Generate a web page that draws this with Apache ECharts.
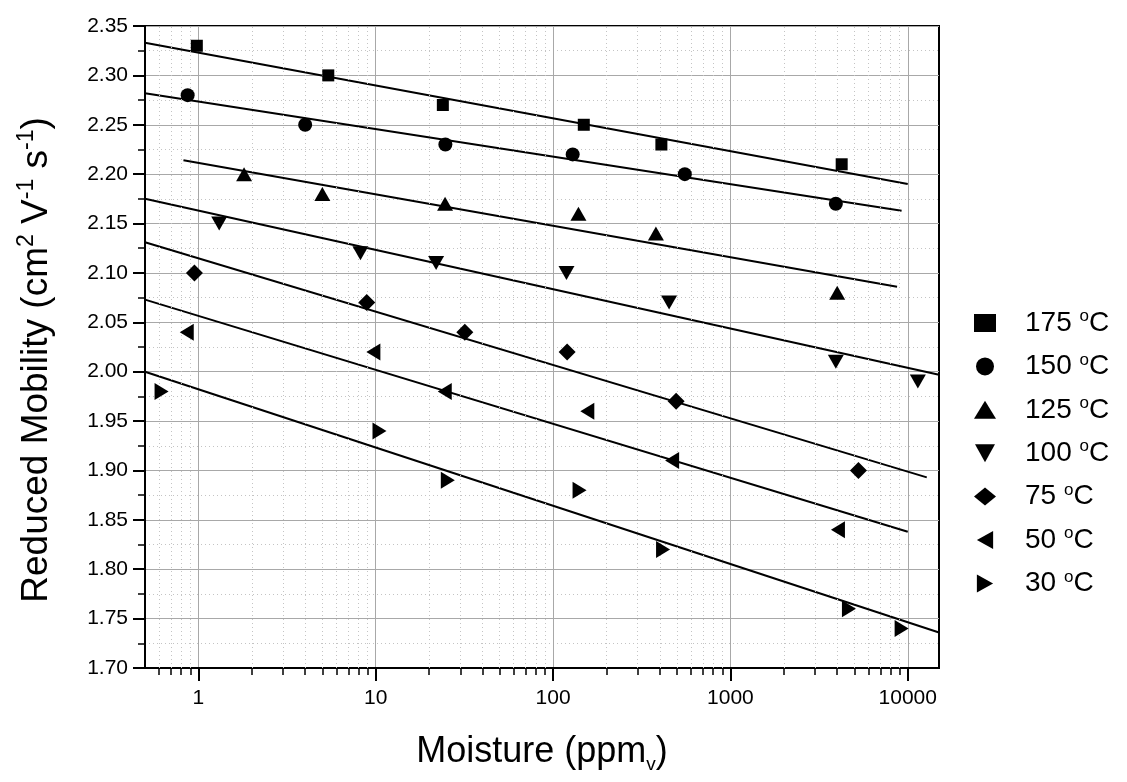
<!DOCTYPE html>
<html>
<head>
<meta charset="utf-8">
<script src="https://cdn.jsdelivr.net/npm/echarts@6/dist/echarts.min.js"></script>
<style>html,body{margin:0;padding:0;background:#fff}#c{width:1127px;height:782px}</style>
</head>
<body>
<div id="c"></div>
<script>
// ---- data ----
const seriesNames = ['175', '150', '125', '100', '75', '50', '30'];
const x175 = [0.98, 5.4, 23.9, 149, 408, 4240];
const y175 = [2.33, 2.30, 2.27, 2.25, 2.23, 2.21];
const x150 = [0.87, 4.0, 24.7, 129, 553, 3930];
const y150 = [2.28, 2.25, 2.23, 2.22, 2.20, 2.17];
const x125 = [1.81, 5.0, 24.6, 139, 380, 4000];
const y125 = [2.20, 2.18, 2.17, 2.16, 2.14, 2.08];
const x100 = [1.31, 8.2, 21.9, 119, 451, 3930, 11400];
const y100 = [2.15, 2.12, 2.11, 2.10, 2.07, 2.01, 1.99];
const x75 = [0.95, 8.9, 31.8, 120, 494, 5270];
const y75 = [2.10, 2.07, 2.04, 2.02, 1.97, 1.90];
const x50 = [0.86, 9.7, 24.5, 156, 469, 4040];
const y50 = [2.04, 2.02, 1.98, 1.96, 1.91, 1.84];
const x30 = [0.62, 10.5, 25.5, 141, 417, 4660, 9230];
const y30 = [1.98, 1.94, 1.89, 1.88, 1.82, 1.76, 1.74];
// linear fit lines (endpoints)
const fit175x = [0.5, 10000], fit175y = [2.333, 2.190];
const fit150x = [0.5, 9230], fit150y = [2.282, 2.163];
const fit125x = [0.824, 8700], fit125y = [2.214, 2.086];
const fit100x = [0.5, 15000], fit100y = [2.175, 1.997];
const fit75x = [0.5, 12800], fit75y = [2.131, 1.893];
const fit50x = [0.5, 10000], fit50y = [2.073, 1.838];
const fit30x = [0.5, 15000], fit30y = [2.000, 1.736];
// axes
const xMajorTicks = [1, 10, 100, 1000, 10000];
const xMinorTicks = [0.6, 0.7, 0.8, 0.9, 2, 3, 4, 5, 6, 7, 8, 9, 20, 30, 40, 50, 60, 70, 80, 90,
  200, 300, 400, 500, 600, 700, 800, 900, 2000, 3000, 4000, 5000, 6000, 7000, 8000, 9000];
const xMin = 0.5, xMax = 15000;
const yMin = 1.70, yMax = 2.35, yStep = 0.05;

// ---- chart ----
const FONT = 'Liberation Sans';
const zip = (xs, ys) => xs.map((x, i) => [x, ys[i]]);
const pts = [[x175, y175], [x150, y150], [x125, y125], [x100, y100], [x75, y75], [x50, y50], [x30, y30]];
const fits = [[fit175x, fit175y], [fit150x, fit150y], [fit125x, fit125y], [fit100x, fit100y], [fit75x, fit75y], [fit50x, fit50y], [fit30x, fit30y]];
const symbols = ['rect', 'circle', 'triangle', 'path://M0,0L10,0L5,9Z', 'diamond', 'path://M9,0L0,5L9,10Z', 'path://M0,0L9,5L0,10Z'];
const sizes = [12, 14, [16, 14], [16, 14], 17, [14, 17], [14, 17]];

const series = [];
// minor x grid (dotted), drawn beneath everything
series.push({
  type: 'line', name: 'minorGrid', data: [[1, 2.0]], showSymbol: false, symbol: 'none',
  lineStyle: { opacity: 0 }, silent: true, z: 0, animation: false,
  markLine: {
    silent: true, symbol: ['none', 'none'], label: { show: false }, animation: false,
    lineStyle: { color: '#c4c4c4', width: 1, type: [1, 3] },
    data: xMinorTicks.map(v => ({ xAxis: v }))
  }
});
fits.forEach((f, i) => {
  series.push({
    type: 'line', name: 'fit' + i, data: zip(f[0], f[1]), showSymbol: false, symbol: 'none',
    lineStyle: { color: '#000', width: 2 }, silent: true, z: 3, animation: false
  });
});
pts.forEach((p, i) => {
  series.push({
    type: 'scatter', name: seriesNames[i], data: zip(p[0], p[1]),
    symbol: symbols[i], symbolSize: sizes[i], itemStyle: { color: '#000', opacity: 1 }, z: 5, animation: false
  });
});

const chart = echarts.init(document.getElementById('c'), null, { renderer: 'canvas' });
chart.setOption({
  animation: false,
  backgroundColor: '#fff',
  grid: { left: 145, right: 188, top: 26, bottom: 114, show: true, borderColor: '#000', borderWidth: 2, backgroundColor: 'transparent' },
  legend: {
    orient: 'vertical', left: 969, top: 303, itemWidth: 22, itemHeight: 18, itemGap: 14.4,
    data: seriesNames,
    itemStyle: { opacity: 1 },
    formatter: n => '{n|' + n + ' }{s|o}{n|C}',
    textStyle: {
      color: '#000', fontFamily: FONT, fontSize: 28, padding: [0, 0, 0, 24],
      rich: {
        n: { fontFamily: FONT, fontSize: 28, color: '#000', lineHeight: 30 },
        s: { fontFamily: FONT, fontSize: 17, color: '#000', verticalAlign: 'top', lineHeight: 12 }
      }
    }
  },
  xAxis: [{
    type: 'log', logBase: 10, min: xMin, max: xMax,
    name: '{a|Moisture (ppm}{b|v}{a|)}', nameLocation: 'middle', nameGap: 62,
    nameTextStyle: {
      fontFamily: FONT, fontSize: 36, color: '#000',
      rich: {
        a: { fontFamily: FONT, fontSize: 36, color: '#000', lineHeight: 44 },
        b: { fontFamily: FONT, fontSize: 19, color: '#000', verticalAlign: 'bottom', lineHeight: 6 }
      }
    },
    axisLine: { show: true, lineStyle: { color: '#000', width: 2 } },
    axisTick: { show: true, customValues: xMajorTicks, length: 13, lineStyle: { color: '#000', width: 2 } },
    axisLabel: { customValues: xMajorTicks, fontFamily: FONT, fontSize: 21, color: '#000', margin: 20,
      formatter: v => String(Math.round(v)) },
    splitLine: { show: true, lineStyle: { color: '#a8a8a8', width: 1 } }
  }, {
    type: 'log', logBase: 10, min: xMin, max: xMax, position: 'bottom',
    axisLine: { show: false },
    axisTick: { show: true, customValues: xMinorTicks, length: 7, lineStyle: { color: '#000', width: 1.5 } },
    axisLabel: { show: false },
    splitLine: { show: false }
  }],
  yAxis: {
    type: 'value', min: yMin, max: yMax, interval: yStep,
    name: '{a|Reduced Mobility (cm}{s|2}{a| V}{s|-1}{a| s}{s|-1}{a|)}', nameLocation: 'middle', nameGap: 86,
    nameTextStyle: {
      fontFamily: FONT, fontSize: 37, color: '#000', padding: [0, 26, 0, 0],
      rich: {
        a: { fontFamily: FONT, fontSize: 37, color: '#000', lineHeight: 44 },
        s: { fontFamily: FONT, fontSize: 23, color: '#000', verticalAlign: 'top', lineHeight: 20 }
      }
    },
    axisLine: { show: true, lineStyle: { color: '#000', width: 2 } },
    axisTick: { show: true, length: 12, lineStyle: { color: '#000', width: 2 } },
    minorTick: { show: true, splitNumber: 2, length: 7, lineStyle: { color: '#000', width: 1.5 } },
    axisLabel: { fontFamily: FONT, fontSize: 21, color: '#000', margin: 17, formatter: v => v.toFixed(2) },
    splitLine: { show: true, lineStyle: { color: '#a8a8a8', width: 1 } },
    minorSplitLine: { show: true, lineStyle: { color: '#c4c4c4', width: 1, type: [1, 3] } }
  },
  series: series
});
</script>
</body>
</html>
